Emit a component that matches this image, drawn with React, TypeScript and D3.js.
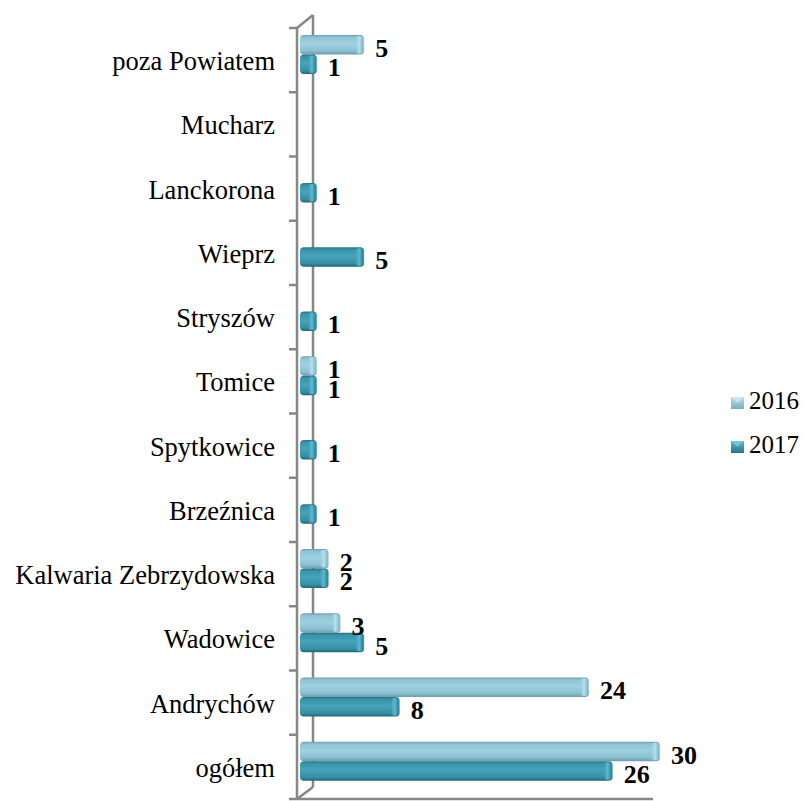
import React from "react";
import * as d3 from "d3";

const categories = [
  "ogółem",
  "Andrychów",
  "Wadowice",
  "Kalwaria Zebrzydowska",
  "Brzeźnica",
  "Spytkowice",
  "Tomice",
  "Stryszów",
  "Wieprz",
  "Lanckorona",
  "Mucharz",
  "poza Powiatem",
];
const values2016 = [30, 24, 3, 2, 0, 0, 1, 0, 0, 0, 0, 5];
const values2017 = [26, 8, 5, 2, 1, 1, 1, 1, 5, 1, 0, 1];
const seriesNames = ["2016", "2017"];

const W = 805;
const H = 801;

export default function App() {
  const plotTop = 28;
  const plotBottom = 799;
  const frontX = 297;
  const depthX = 16;
  const depthY = 12;

  const order = categories.slice().reverse();
  const y = d3.scaleBand<string>().domain(order).range([plotTop, plotBottom]).padding(0);
  const x = d3.scaleLinear().domain([0, 30]).range([305, 660]);

  const bw = y.bandwidth();
  const ticks = d3.range(categories.length + 1).map((i) => plotTop + i * bw);

  const series = [
    { name: seriesNames[0], values: values2016, off: 7, grad: "g16", cap: "c16" },
    { name: seriesNames[1], values: values2017, off: 26.5, grad: "g17", cap: "c17" },
  ];
  const barH = 19.5;
  const serif = "'Liberation Serif', 'Times New Roman', serif";

  return (
    <svg
      width={W}
      height={H}
      style={{ position: "absolute", left: 0, top: 0, background: "#fff" }}
      fontFamily={serif}
    >
      <defs>
        <linearGradient id="g16" x1="0" y1="0" x2="0" y2="1">
          <stop offset="0" stopColor="#6f9fb0" />
          <stop offset="0.12" stopColor="#8ec4d6" />
          <stop offset="0.45" stopColor="#9fd0e0" />
          <stop offset="0.8" stopColor="#8bc1d3" />
          <stop offset="1" stopColor="#6d9cad" />
        </linearGradient>
        <linearGradient id="g17" x1="0" y1="0" x2="0" y2="1">
          <stop offset="0" stopColor="#2a7487" />
          <stop offset="0.14" stopColor="#3a94ab" />
          <stop offset="0.45" stopColor="#45a3ba" />
          <stop offset="0.82" stopColor="#3790a7" />
          <stop offset="1" stopColor="#236577" />
        </linearGradient>
        <linearGradient id="c16" x1="0" y1="0" x2="1" y2="0">
          <stop offset="0" stopColor="#a6d6e5" stopOpacity="0" />
          <stop offset="0.5" stopColor="#b9e0ec" />
          <stop offset="1" stopColor="#7fb4c6" />
        </linearGradient>
        <linearGradient id="c17" x1="0" y1="0" x2="1" y2="0">
          <stop offset="0" stopColor="#4fb0c7" stopOpacity="0" />
          <stop offset="0.5" stopColor="#5bbad0" />
          <stop offset="1" stopColor="#2c7d91" />
        </linearGradient>
        <linearGradient id="leg16" x1="0" y1="0" x2="0" y2="1">
          <stop offset="0" stopColor="#b8dde9" />
          <stop offset="1" stopColor="#7aaebf" />
        </linearGradient>
        <linearGradient id="leg17" x1="0" y1="0" x2="0" y2="1">
          <stop offset="0" stopColor="#5ab8cd" />
          <stop offset="1" stopColor="#2a7487" />
        </linearGradient>
      </defs>

      {/* 3D frame */}
      <g stroke="#878787" strokeWidth={2.5} fill="none">
        <line x1={frontX} y1={plotTop} x2={frontX} y2={plotBottom} />
        <line x1={frontX + depthX} y1={plotTop - depthY - 1} x2={frontX + depthX} y2={plotBottom - depthY} />
        <line x1={frontX} y1={plotTop} x2={frontX + depthX} y2={plotTop - depthY - 1} />
        <line x1={frontX} y1={plotBottom} x2={frontX + depthX} y2={plotBottom - depthY} />
        <line x1={frontX} y1={plotBottom} x2={653} y2={plotBottom} />
        {ticks.map((t, i) => (
          <line key={i} x1={frontX - 8} y1={t} x2={frontX} y2={t} />
        ))}
      </g>

      {/* category labels */}
      {order.map((c) => (
        <text
          key={c}
          x={275}
          y={(y(c) as number) + bw / 2 + 10}
          textAnchor="end"
          fontSize={26.5}
          fill="#000"
        >
          {c}
        </text>
      ))}

      {/* bars */}
      {series.map((s) =>
        categories.map((c, i) => {
          const v = s.values[i];
          if (!v) return null;
          const top = (y(c) as number) + s.off;
          const x0 = 300;
          const x1 = x(v);
          return (
            <g key={s.name + c}>
              <rect x={x0} y={top} width={x1 - x0} height={barH} rx={4} ry={4} fill={`url(#${s.grad})`} />
              <rect x={x1 - 9} y={top + 1} width={8} height={barH - 2} rx={3} ry={3} fill={`url(#${s.cap})`} />
            </g>
          );
        })
      )}

      {/* value labels */}
      {series.map((s) =>
        categories.map((c, i) => {
          const v = s.values[i];
          if (!v) return null;
          const top = (y(c) as number) + s.off;
          return (
            <text
              key={"l" + s.name + c}
              x={x(v) + 11}
              y={top + barH / 2 + 12}
              fontSize={26}
              fontWeight="bold"
              fill="#000"
            >
              {v}
            </text>
          );
        })
      )}

      {/* legend */}
      {series.map((s, i) => {
        const ly = 409 + i * 44;
        return (
          <g key={"leg" + s.name}>
            <rect x={731} y={ly - 12} width={13} height={12} fill={`url(#leg${s.name.slice(2)})`} />
            <path
              d={`M${731},${ly - 12} L${744},${ly - 12} L${737.5},${ly - 6} Z`}
              fill={i === 0 ? "#cde8f0" : "#7ccbdc"}
              opacity={0.8}
            />
            <text x={749} y={ly} fontSize={25} fill="#000">
              {s.name}
            </text>
          </g>
        );
      })}
    </svg>
  );
}
